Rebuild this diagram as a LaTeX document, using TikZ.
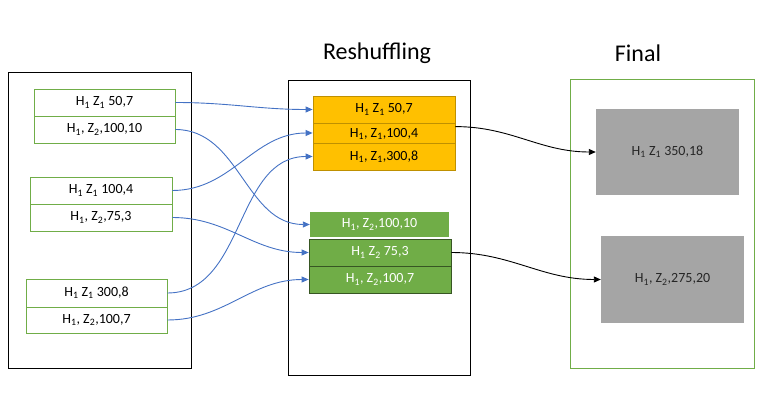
\documentclass[tikz,border=0pt]{standalone}
\usepackage{fontspec}
\setmainfont{Carlito}
\usetikzlibrary{arrows.meta}
\definecolor{ltgreen}{HTML}{70AD47}
\definecolor{dkgreen}{HTML}{375623}
\definecolor{amber}{HTML}{FFC000}
\definecolor{amberedge}{HTML}{BF9000}
\definecolor{slate}{HTML}{A5A5A5}
\definecolor{linkblue}{HTML}{4472C4}
\newcommand\ix[1]{\textsubscript{#1}}

\begin{document}
\begin{tikzpicture}[x=1pt,y=-1pt,
                    txt/.style={font=\fontsize{14}{16}\selectfont},
                    cell/.style={txt,draw=ltgreen,line width=0.8pt,minimum width=141pt,minimum height=27pt,inner sep=0pt},
                    gold/.style={txt,fill=amber,draw=amberedge,line width=0.8pt,minimum width=142pt,inner sep=0pt},
                    leaf/.style={txt,fill=ltgreen,text=white,minimum width=142pt,minimum height=27pt,inner sep=0pt},
                    sum/.style={txt,fill=slate,text=black!85,minimum width=143pt,inner sep=0pt},
                    frame/.style={line width=0.8pt},
                    link/.style={linkblue,line width=0.9pt,-{Triangle[length=7pt,width=6pt]}},
                    push/.style={black,line width=0.9pt,-{Triangle[length=7pt,width=6pt]}}]
                    \useasboundingbox (0,0) rectangle (777,414);
                    \draw[frame] (8,72) rectangle (191,368);
                    \draw[frame] (288,80) rectangle (470,375);
                    \draw[frame,draw=ltgreen] (570,79) rectangle (754,368);
                    \node[font=\fontsize{24}{28}\selectfont] (reshuffle) at (377,53) {Reshuffling};
                    \node[font=\fontsize{24}{28}\selectfont] (final) at (638,53) {Final};
                    \node[cell] (l1) at (104.5,102.5) {H\ix{1} Z\ix{1} 50,7};
                    \node[cell] (l2) at (104.5,129.5) {H\ix{1}, Z\ix{2},100,10};
                    \node[cell,minimum width=142pt] (l3) at (101,190.5) {H\ix{1} Z\ix{1} 100,4};
                    \node[cell,minimum width=142pt] (l4) at (101,217.5) {H\ix{1}, Z\ix{2},75,3};
                    \node[cell,minimum height=28pt] (l5) at (96.5,293) {H\ix{1} Z\ix{1} 300,8};
                    \node[cell,minimum height=26pt] (l6) at (96.5,320) {H\ix{1}, Z\ix{2},100,7};
                    \node[gold,minimum height=27pt] (o1) at (384,109.5) {H\ix{1} Z\ix{1} 50,7};
                    \node[gold,minimum height=20pt,text depth=-4pt] (o2) at (384,133) {H\ix{1}, Z\ix{1},100,4};
                    \node[gold,minimum height=27pt] (o3) at (384,156.5) {H\ix{1}, Z\ix{1},300,8};
                    \node[leaf,minimum width=139pt,minimum height=25pt] (g1) at (379.5,224.5) {H\ix{1}, Z\ix{2},100,10};
                    \node[leaf,draw=dkgreen,line width=0.8pt] (g2) at (380,252.5) {H\ix{1} Z\ix{2} 75,3};
                    \node[leaf,draw=dkgreen,line width=0.8pt] (g3) at (380,279.5) {H\ix{1}, Z\ix{2},100,7};
                    \node[sum,minimum height=86pt] (f1) at (667.5,152) {H\ix{1} Z\ix{1} 350,18};
                    \node[sum,minimum height=87pt] (f2) at (672.5,279.5) {H\ix{1}, Z\ix{2},275,20};
                    \draw[link] (l1.east) to[out=0,in=180] (o1.west);
                    \draw[link] (l2.east) to[out=0,in=180] (g1.west);
                    \draw[link] (l3.east) to[out=0,in=180] (o2.west);
                    \draw[link] (l4.east) to[out=0,in=180] (g2.west);
                    \draw[link] (l5.east) to[out=0,in=180] (o3.west);
                    \draw[link] (l6.east) to[out=0,in=180] (g3.west);
                    \draw[push] ([yshift=-4pt]o2.north east) to[out=0,in=180] (f1.west);
                    \draw[push] (g2.east) to[out=0,in=180] (f2.west);
\end{tikzpicture}
\end{document}
